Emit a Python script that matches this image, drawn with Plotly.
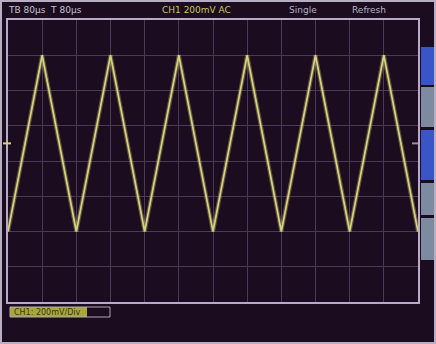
import plotly.graph_objects as go

time_div = [0, 1, 2, 3, 4, 5, 6, 7, 8, 9, 10, 11, 12]
volt_div = [-2, 3, -2, 3, -2, 3, -2, 3, -2, 3, -2, 3, -2]

header_left = "TB 80µs  T 80µs"
header_ch = "CH1 200mV AC"
header_mode = "Single"
header_refresh = "Refresh"
footer_label = "CH1: 200mV/Div"

BG = "#1b0d1f"
GRID = "#4a3a58"
BORDER = "#b8aac8"
WAVE = "#d8d27a"

fig = go.Figure()
fig.add_trace(go.Scatter(x=time_div, y=volt_div, mode="lines",
                         line=dict(color="rgba(216,210,122,0.35)", width=4),
                         hoverinfo="skip", showlegend=False))
fig.add_trace(go.Scatter(x=time_div, y=volt_div, mode="lines",
                         line=dict(color=WAVE, width=1.7), showlegend=False))

W, H = 436, 344
L, R, T, B = 8, 18, 20, 42
PW, PH = W - L - R, H - T - B

def px(x):
    return (x - L) / PW

def py(y):
    return (H - B - y) / PH

shapes = []
# right side panel buttons
buttons = [(47, 85, "#3a55c8"), (87, 127, "#7d8aa0"), (130, 180, "#3a55c8"),
           (183, 215, "#7d8aa0"), (218, 260, "#7d8aa0")]
for y0, y1, c in buttons:
    shapes.append(dict(type="rect", xref="paper", yref="paper",
                       x0=px(421), x1=px(436), y0=py(y1), y1=py(y0),
                       fillcolor=c, line=dict(width=0), layer="below"))
# footer yellow label box
shapes.append(dict(type="rect", xref="paper", yref="paper", x0=px(10), x1=px(87),
                   y0=py(317), y1=py(307), fillcolor="#a8a83a",
                   line=dict(width=0)))
shapes.append(dict(type="rect", xref="paper", yref="paper", x0=px(10), x1=px(110),
                   y0=py(317), y1=py(307), fillcolor="rgba(0,0,0,0)",
                   line=dict(color="#b0a8b8", width=1)))
# outer image border
shapes.append(dict(type="rect", xref="paper", yref="paper", x0=px(1), x1=px(435),
                   y0=py(343), y1=py(1),
                   line=dict(color="#b8aec4", width=2)))
# trigger level markers
shapes.append(dict(type="line", xref="paper", yref="y", x0=px(3), x1=px(11),
                   y0=0.5, y1=0.5, line=dict(color=WAVE, width=2)))
shapes.append(dict(type="line", xref="paper", yref="y", x0=px(412), x1=px(418),
                   y0=0.5, y1=0.5, line=dict(color="#9a8caa", width=2)))

annotations = [
    dict(text=header_left, x=px(6), y=py(10), xref="paper", yref="paper",
         xanchor="left", yanchor="middle", showarrow=False,
         font=dict(family="DejaVu Sans", size=9, color="#c8c0d4")),
    dict(text=header_ch, x=px(160), y=py(10), xref="paper", yref="paper",
         xanchor="left", yanchor="middle", showarrow=False,
         font=dict(family="DejaVu Sans", size=9, color="#c8c860")),
    dict(text=header_mode, x=px(287), y=py(10), xref="paper", yref="paper",
         xanchor="left", yanchor="middle", showarrow=False,
         font=dict(family="DejaVu Sans", size=9, color="#b8b0c4")),
    dict(text=header_refresh, x=px(350), y=py(10), xref="paper", yref="paper",
         xanchor="left", yanchor="middle", showarrow=False,
         font=dict(family="DejaVu Sans", size=9, color="#b8b0c4")),
    dict(text=footer_label, x=px(12), y=py(312), xref="paper", yref="paper",
         xanchor="left", yanchor="middle", showarrow=False,
         font=dict(family="DejaVu Sans", size=8, color="#3a3a10")),
]

fig.update_layout(
    width=W, height=H,
    margin=dict(l=L, r=R, t=T, b=B, pad=0),
    paper_bgcolor=BG, plot_bgcolor=BG,
    shapes=shapes, annotations=annotations,
    xaxis=dict(range=[0, 12], dtick=1, tick0=0, showgrid=True, gridcolor=GRID,
               gridwidth=1, zeroline=False, showticklabels=False, ticks="",
               showline=True, linecolor=BORDER, linewidth=2, mirror=True,
               fixedrange=True),
    yaxis=dict(range=[-4, 4], dtick=1, tick0=0, showgrid=True, gridcolor=GRID,
               gridwidth=1, zeroline=False, showticklabels=False, ticks="",
               showline=True, linecolor=BORDER, linewidth=2, mirror=True,
               fixedrange=True),
)

fig.write_html("out.html", config=dict(displayModeBar=False),
               post_script="document.body.style.margin='0';document.body.style.overflow='hidden';")
